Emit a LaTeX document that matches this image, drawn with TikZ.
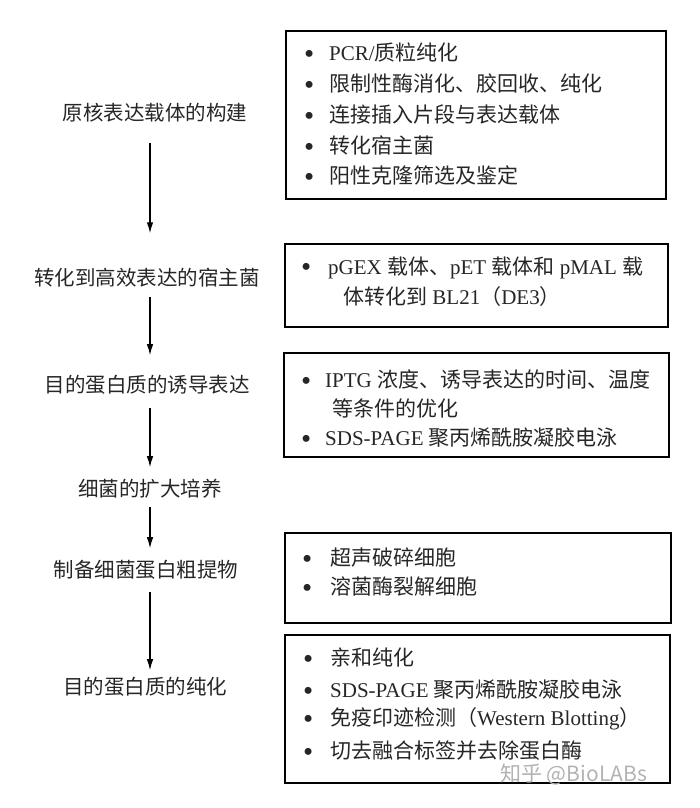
\documentclass[tikz,border=0pt]{standalone}
\usepackage{fontspec}
\setmainfont{Liberation Serif}
\newfontfamily\cjk{Noto Sans CJK SC}
\newcommand{\zh}[1]{{\cjk #1}}
\usepackage{tikz}
\usetikzlibrary{arrows.meta,calc}

\tikzset{
	stagelabel/.style={inner sep=0pt, text=black!85, font=\cjk\fontsize{20.5}{24}\selectfont},
	itembox/.style={draw, line width=1.8pt, inner sep=0pt, anchor=north west},
	itemrow/.style={anchor=west, inner sep=0pt, text=black!85, font=\fontsize{21}{25}\selectfont},
	flowarrow/.style={-{Latex[length=11pt, width=6.5pt]}, line width=1.2pt}
}
\newcommand{\bul}[1][25pt]{\makebox[#1][l]{\raisebox{-2.4pt}{\fontsize{29}{29}\selectfont\textbullet}}}

\begin{document}
\begin{tikzpicture}[x=1pt, y=-1pt]

			\useasboundingbox (0,0) rectangle (700,808);

			% stages on the left
			\node[stagelabel] (l1) at (155,113) {原核表达载体的构建};
			\node[stagelabel] (l2) at (147,278) {转化到高效表达的宿主菌};
			\node[stagelabel] (l3) at (147,385) {目的蛋白质的诱导表达};
			\node[stagelabel] (l4) at (150,489) {细菌的扩大培养};
			\node[stagelabel] (l5) at (146,570) {制备细菌蛋白粗提物};
			\node[stagelabel] (l6) at (145,687) {目的蛋白质的纯化};

			% arrows between stages
			\coordinate (ax) at (150,0);
			\foreach \a/\b/\s/\e in {l1/l2/20/35, l2/l3/9/20, l3/l4/13/12, l4/l5/8/12, l5/l6/12/7}
				\draw[flowarrow, shorten <=\s pt, shorten >=\e pt] (\a.south -| ax) -- (\b.north -| ax);

			% boxes on the right
			\node[itembox, minimum width=380pt, minimum height=168pt] (box1) at (285,30) {};
			\node[itembox, minimum width=383pt, minimum height=83pt] (box2) at (284,243) {};
			\node[itembox, minimum width=385pt, minimum height=104pt] (box3) at (283,352) {};
			\node[itembox, minimum width=386pt, minimum height=90pt] (box4) at (284,532) {};
			\node[itembox, minimum width=385pt, minimum height=148pt] (box5) at (284,634) {};

			% box 1
			\node[itemrow] (r11) at (304,53) {\bul PCR/\zh{质粒纯化}};
			\node[itemrow] (r12) at (304,84) {\bul\zh{限制性酶消化、胶回收、纯化}};
			\node[itemrow] (r13) at (304,115) {\bul\zh{连接插入片段与表达载体}};
			\node[itemrow] (r14) at (304,146) {\bul\zh{转化宿主菌}};
			\node[itemrow] (r15) at (304,176) {\bul\zh{阳性克隆筛选及鉴定}};

			% box 2
			\node[itemrow] (r21) at (301,268) {\bul[27pt]pGEX \zh{载体、}pET \zh{载体和} pMAL \zh{载}};
			\node[itemrow] (r22) at (343,297) {\zh{体转化到} BL21\zh{（}DE3\zh{）}};

			% box 3
			\node[itemrow] (r31) at (301,380) {\bul[24pt]IPTG \zh{浓度、诱导表达的时间、温度}};
			\node[itemrow] (r32) at (332,408) {\zh{等条件的优化}};
			\node[itemrow] (r33) at (301,438) {\bul[24pt]SDS-PAGE \zh{聚丙烯酰胺凝胶电泳}};

			% box 4
			\node[itemrow] (r41) at (302,558) {\bul[28pt]\zh{超声破碎细胞}};
			\node[itemrow] (r42) at (302,587) {\bul[28pt]\zh{溶菌酶裂解细胞}};

			% box 5
			\node[itemrow] (r51) at (303,658) {\bul[27pt]\zh{亲和纯化}};
			\node[itemrow] (r52) at (303,690) {\bul[27pt]SDS-PAGE \zh{聚丙烯酰胺凝胶电泳}};
			\node[itemrow] (r53) at (303,719) {\bul[27pt]\zh{免疫印迹检测（}Western Blotting\zh{）}};
			\node[itemrow] (r54) at (303,751) {\bul[27pt]\zh{切去融合标签并去除蛋白酶}};

			% watermark
			\node[anchor=west, inner sep=0pt, text=black!30, font=\cjk\fontsize{21}{24}\selectfont] (wm) at (500,774) {知乎 @BioLABs};

\end{tikzpicture}
\end{document}
